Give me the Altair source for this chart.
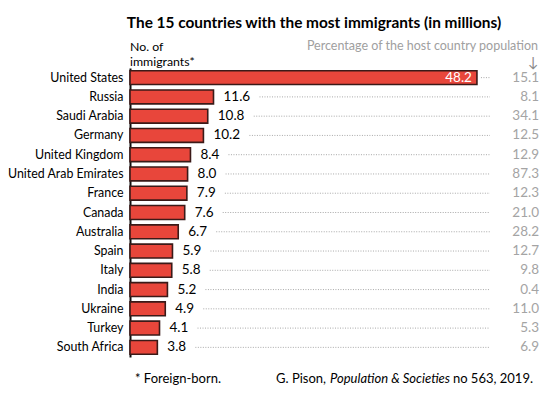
import altair as alt
import pandas as pd

countries = ["United States", "Russia", "Saudi Arabia", "Germany", "United Kingdom",
             "United Arab Emirates", "France", "Canada", "Australia", "Spain", "Italy",
             "India", "Ukraine", "Turkey", "South Africa"]
immigrants = [48.2, 11.6, 10.8, 10.2, 8.4, 8.0, 7.9, 7.6, 6.7, 5.9, 5.8, 5.2, 4.9, 4.1, 3.8]
percent = [15.1, 8.1, 34.1, 12.5, 12.9, 87.3, 12.3, 21.0, 28.2, 12.7, 9.8, 0.4, 11.0, 5.3, 6.9]

title_text = "The 15 countries with the most immigrants (in millions)"
left_header = ["No. of", "immigrants*"]
right_header = "Percentage of the host country population"
footnote = "* Foreign-born."
source_parts = ["G. Pison,", "Population & Societies", "no 563, 2019."]

FONT = "Lato"
W, H = 411, 289

df = pd.DataFrame({
    "country": countries,
    "value": immigrants,
    "pct": percent,
})
df["vlabel"] = [f"{v:.1f}" for v in immigrants]
df["plabel"] = [f"{p:.1f}" for p in percent]

base = alt.Chart(df)
y = alt.Y("country:N", sort=countries,
          scale=alt.Scale(paddingInner=0.28, paddingOuter=0.14),
          axis=alt.Axis(title=None, labelFont=FONT, labelFontSize=12.4, labelColor="black",
                        ticks=False, domainColor="#111111", domainWidth=2, labelPadding=7,
                        labelLimit=200, grid=False))
x = alt.X("value:Q", scale=alt.Scale(domain=[0, 57.1], nice=False), axis=None)

bars = base.mark_bar(color="#e8463b", stroke="#3b1a18", strokeWidth=1.6).encode(x=x, y=y)

us = alt.datum.country == "United States"
long_lbl = (alt.datum.country != "United States") & (alt.datum.value >= 10)
short_lbl = alt.datum.value < 10

rule_style = dict(color="#a8a8a8", strokeWidth=1, strokeDash=[1, 1.5])
rules_us = base.transform_filter(us).mark_rule(xOffset=4, **rule_style).encode(
    x=x, x2=alt.value(360), y=y)
rules_long = base.transform_filter(long_lbl).mark_rule(xOffset=46, **rule_style).encode(
    x=x, x2=alt.value(360), y=y)
rules_short = base.transform_filter(short_lbl).mark_rule(xOffset=38, **rule_style).encode(
    x=x, x2=alt.value(360), y=y)

vlabels = base.transform_filter(~us).mark_text(
    align="left", baseline="middle", dx=10, font=FONT, fontSize=13.5, color="black"
).encode(x=x, y=y, text="vlabel:N")
vlabel_us = base.transform_filter(us).mark_text(
    align="right", baseline="middle", dx=-5, font=FONT, fontSize=13.5, color="white"
).encode(x=x, y=y, text="vlabel:N")

plabels = base.mark_text(
    align="right", baseline="middle", font=FONT, fontSize=13.5, color="#a4a4a4"
).encode(x=alt.value(409), y=y, text="plabel:N")


def note(text, xpix, ypix, align="left", size=13, color="black", weight="normal",
         style="normal"):
    return alt.Chart(pd.DataFrame({"t": [text]})).mark_text(
        align=align, baseline="middle", font=FONT, fontSize=size, color=color,
        fontWeight=weight, fontStyle=style
    ).encode(x=alt.value(xpix), y=alt.value(ypix), text="t:N")


annots = [
    note(title_text, 184, -45, align="center", size=15.4, weight="bold"),
    note(left_header[0], 0, -21, size=12.3),
    note(left_header[1], 0, -6.5, size=12.3),
    note(right_header, 408, -22, align="right", size=12.5, color="#a0a0a0"),
    note("\u2193", 403, -5, align="center", size=14, color="#8a8a8a"),
    note(footnote, 5, 311, size=13),
    note(source_parts[0], 196, 311, align="right", size=13),
    note(source_parts[1], 320, 311, align="right", size=13, style="italic"),
    note(source_parts[2], 403, 311, align="right", size=13),
]

chart = alt.layer(rules_us, rules_long, rules_short, bars, vlabels, vlabel_us, plabels,
                  *annots).properties(
    width=W, height=H, autosize="none",
    padding={"left": 122, "top": 60, "right": 11, "bottom": 29},
).configure_view(stroke=None)

chart.save("out.html", embed_options={"renderer": "svg", "actions": False})
